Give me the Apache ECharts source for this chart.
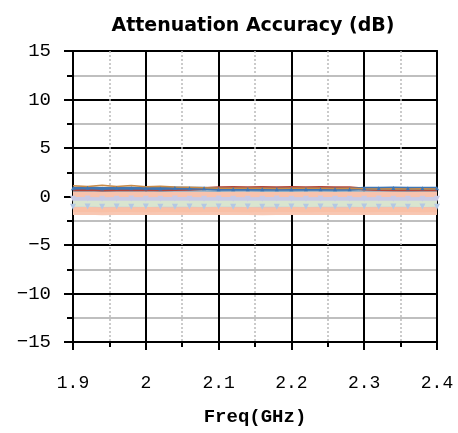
<!DOCTYPE html>
<html>
<head>
<meta charset="utf-8">
<script src="https://cdn.jsdelivr.net/npm/echarts@6/dist/echarts.min.js"></script>
<style>html,body{margin:0;padding:0;background:#fff;}#c{width:458px;height:433px;}</style>
</head>
<body>
<div id="c"></div>
<script>
const freq = [1.90,1.92,1.94,1.96,1.98,2.00,2.02,2.04,2.06,2.08,2.10,2.12,2.14,2.16,2.18,2.20,2.22,2.24,2.26,2.28,2.30,2.32,2.34,2.36,2.38,2.40];
const xTicks = ['1.9','2','2.1','2.2','2.3','2.4'];
const yTicks = [-15,-10,-5,0,5,10,15];
// traces (dB), bottom layer first
const trace10 = [-1.65,-1.63,-1.67,-1.65,-1.64,-1.66,-1.65,-1.63,-1.65,-1.66,-1.65,-1.64,-1.65,-1.67,-1.65,-1.64,-1.65,-1.66,-1.65,-1.63,-1.65,-1.66,-1.65,-1.64,-1.65,-1.65];
const trace9  = [-1.25,-1.23,-1.27,-1.25,-1.24,-1.26,-1.25,-1.23,-1.26,-1.25,-1.24,-1.25,-1.26,-1.25,-1.23,-1.25,-1.26,-1.25,-1.24,-1.25,-1.26,-1.25,-1.24,-1.25,-1.26,-1.25];
const trace8  = [-1.05,-1.02,-1.06,-1.04,-1.05,-1.03,-1.05,-1.06,-1.04,-1.05,-1.03,-1.05,-1.04,-1.06,-1.05,-1.03,-1.05,-1.04,-1.06,-1.05,-1.04,-1.05,-1.03,-1.05,-1.04,-1.05];
const trace7  = [-0.70,-0.68,-0.72,-0.70,-0.69,-0.71,-0.70,-0.68,-0.70,-0.71,-0.69,-0.70,-0.72,-0.70,-0.68,-0.70,-0.71,-0.70,-0.69,-0.70,-0.71,-0.70,-0.68,-0.70,-0.71,-0.70];
const trace6  = [-0.22,-0.20,-0.24,-0.22,-0.21,-0.23,-0.22,-0.20,-0.23,-0.22,-0.21,-0.22,-0.24,-0.22,-0.21,-0.23,-0.22,-0.20,-0.22,-0.23,-0.22,-0.21,-0.22,-0.24,-0.22,-0.22];
const trace5  = [0.25,0.27,0.23,0.25,0.26,0.24,0.25,0.27,0.25,0.24,0.26,0.25,0.23,0.25,0.26,0.25,0.24,0.25,0.27,0.25,0.24,0.26,0.25,0.23,0.25,0.25];
const trace4  = [0.58,0.62,0.56,0.60,0.58,0.61,0.57,0.59,0.60,0.58,0.56,0.58,0.59,0.57,0.58,0.56,0.58,0.59,0.57,0.58,0.60,0.58,0.59,0.57,0.58,0.59];
const trace3  = [0.85,0.90,0.82,0.88,0.84,0.86,0.83,0.87,0.84,0.85,0.76,0.74,0.75,0.74,0.76,0.75,0.74,0.76,0.75,0.74,0.86,0.85,0.87,0.84,0.86,0.85];
const trace2  = [0.70,0.72,0.68,0.70,0.71,0.69,0.70,0.72,0.75,0.82,0.90,0.92,0.91,0.92,0.90,0.92,0.91,0.92,0.90,0.91,0.78,0.72,0.70,0.71,0.70,0.70];
const trace1  = [1.12,1.02,1.15,1.04,1.14,1.00,1.06,0.98,0.95,0.90,0.85,0.84,0.85,0.84,0.83,0.84,0.85,0.84,0.83,0.84,0.80,0.78,0.79,0.78,0.79,0.78];

const layers = [
  {data: trace10, color:'#f8c7b2', w:5, sym:'none'},
  {data: trace9,  color:'#f9c0a6', w:7, sym:'none'},
  {data: trace8,  color:'#b4c8e4', w:1, sym:'triangle', rot:180, size:6},
  {data: trace7,  color:'#d9e5cf', w:7, sym:'none'},
  {data: trace6,  color:'#c9cbe6', w:4, sym:'triangle', rot:180, size:6},
  {data: trace5,  color:'#f8c3ae', w:6, sym:'none'},
  {data: trace4,  color:'#8eaec4', w:2, sym:'none'},
  {data: trace2,  color:'#b5473b', w:3, sym:'none'},
  {data: trace3,  color:'#3f76b4', w:3, sym:'triangle', size:4},
  {data: trace1,  color:'#c98a45', w:1.5, sym:'none'}
];

const chart = echarts.init(document.getElementById('c'), null, {renderer:'canvas'});
const labelFont = '"Liberation Mono","DejaVu Sans Mono",monospace';
chart.setOption({
  animation:false,
  title:{text:'Attenuation Accuracy (dB)', left:248, textAlign:'center', top:12,
    textStyle:{fontFamily:'"DejaVu Sans",sans-serif', fontWeight:'bold', fontSize:19, color:'#000'}},
  grid:{left:73, right:21, top:51, bottom:91, show:true, borderColor:'#111', borderWidth:2, backgroundColor:'transparent'},
  xAxis:{type:'value', min:1.9, max:2.4, interval:0.1,
    name:'Freq(GHz)', nameLocation:'middle', nameGap:66,
    nameTextStyle:{fontFamily:labelFont, fontWeight:'bold', fontSize:19, color:'#000'},
    axisLine:{show:true, onZero:false, lineStyle:{color:'#000', width:2}},
    axisTick:{show:true, length:8, lineStyle:{color:'#000', width:2}},
    minorTick:{show:true, splitNumber:2, length:5, lineStyle:{color:'#000', width:2}},
    splitLine:{show:true, lineStyle:{color:'#000', width:2}},
    minorSplitLine:{show:true, lineStyle:{color:'#bbb', width:1.5, type:[2,2]}},
    axisLabel:{margin:32, fontFamily:labelFont, fontSize:18, color:'#000',
      formatter:function(v){ const i = Math.round((v-1.9)/0.1); return xTicks[i] !== undefined ? xTicks[i] : ''; }}
  },
  yAxis:{type:'value', min:-15, max:15, interval:5,
    axisLine:{show:true, onZero:false, lineStyle:{color:'#000', width:2}},
    axisTick:{show:true, length:9, lineStyle:{color:'#000', width:2}},
    minorTick:{show:true, splitNumber:2, length:6, lineStyle:{color:'#000', width:2}},
    splitLine:{show:true, lineStyle:{color:'#000', width:2}},
    minorSplitLine:{show:true, lineStyle:{color:'#aaa', width:1.5}},
    axisLabel:{margin:22, fontFamily:labelFont, fontSize:19, color:'#000',
      formatter:function(v){ return yTicks.indexOf(v) >= 0 ? String(v).replace('-', '\u2212') : ''; }}
  },
  series: layers.map(function(l){
    return {type:'line', data: freq.map(function(f,i){ return [f, l.data[i]]; }),
      showSymbol: l.sym !== 'none', symbol: l.sym, symbolSize: l.size || 4, symbolRotate: l.rot || 0,
      itemStyle:{color:l.color}, lineStyle:{color:l.color, width:l.w}, silent:true, clip:true};
  })
});
</script>
</body>
</html>
